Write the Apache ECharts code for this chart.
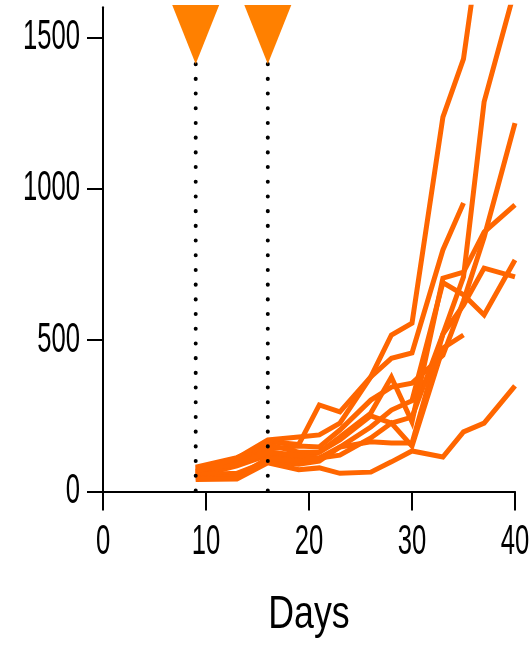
<!DOCTYPE html>
<html>
<head>
<meta charset="utf-8">
<script src="https://cdn.jsdelivr.net/npm/echarts@6/dist/echarts.min.js"></script>
<style>
html,body{margin:0;padding:0;background:#fff;}
#chart{width:531px;height:651px;}
</style>
</head>
<body>
<div id="chart"></div>
<script>
// ---- data ----
const days = [9, 13, 16, 19, 21, 23, 26, 28, 30, 33, 35, 37, 40];
const seriesA  = [75, 95, 165, 155, 286, 263, 379, 517, 556, 1237, 1429, 1910, null];
const seriesB  = [50, 85, 120, 110, 130, 170, 250, 226, 246, 520, 709, 1287, 1660];
const seriesC  = [58, 100, 140, 150, 147, 203, 302, 345, 358, 450, 630, 840, 1217];
const seriesD  = [80, 112, 155, 130, 130, 180, 259, 378, 230, 705, 725, 857, 947];
const seriesE1 = [70, 90, 130, 120, 111, 147, 213, 269, 300, 690, 650, 583, 765];
const seriesE2 = [55, 60, 100, 90, 100, 147, 164, 160, 160, 520, 616, 738, 709];
const seriesF  = [65, 110, 170, 180, 187, 226, 379, 440, 458, 798, 953, null, null];
const seriesG  = [45, 48, 110, 100, 111, 120, 177, 226, 150, 474, 517, null, null];
const seriesH  = [40, 41, 95, 72, 78, 60, 64, 98, 134, 114, 197, 226, 349];
const allSeries = [seriesA, seriesB, seriesC, seriesD, seriesE1, seriesE2, seriesF, seriesG, seriesH];

const treatmentDays = [9, 16];
const markerLevel = 1510;
const dottedTop = 1412;

const xTicks = [0, 10, 20, 30, 40];
const yTicks = [0, 500, 1000, 1500];
const xName = 'Days';

// ---- chart ----
const chart = echarts.init(document.getElementById('chart'), null, {renderer: 'canvas'});
const FONT = "'Liberation Sans', Arial, sans-serif";
const LINE_COLOR = '#FF6600';

function pairs(vals) {
  const out = [];
  vals.forEach((v, i) => { if (v !== null) out.push([days[i], v]); });
  return out;
}

const series = [];
allSeries.forEach(vals => {
  series.push({
    type: 'line',
    data: pairs(vals),
    symbol: 'none',
    clip: true,
    z: 2,
    lineStyle: {color: LINE_COLOR, width: 5, join: 'miter'},
    emphasis: {disabled: true}
  });
});
treatmentDays.forEach(d => {
  series.push({
    type: 'line',
    data: [[d, dottedTop], [d, 0]],
    symbol: 'none',
    z: 3,
    lineStyle: {color: '#000', width: 4, type: [0.1, 14.6], cap: 'round'},
    emphasis: {disabled: true}
  });
});
series.push({
  type: 'scatter',
  data: treatmentDays.map(d => [d, markerLevel]),
  symbol: 'triangle',
  symbolRotate: 180,
  symbolSize: [47, 59],
  itemStyle: {color: '#FF8000', opacity: 1},
  z: 4,
  emphasis: {disabled: true}
});

chart.setOption({
  animation: false,
  backgroundColor: '#fff',
  grid: {left: 103, right: 16, top: 7.2, bottom: 159.5, containLabel: false, outerBoundsMode: 'none'},
  xAxis: {
    type: 'value', min: 0, max: 40, interval: 10,
    axisLine: {show: true, onZero: false, lineStyle: {color: '#000', width: 2}},
    axisTick: {show: true, inside: false, length: 19, lineStyle: {color: '#000', width: 2}, customValues: xTicks},
    axisLabel: {show: false},
    splitLine: {show: false}
  },
  yAxis: {
    type: 'value', min: 0, max: 1600, interval: 500,
    axisLine: {show: true, onZero: false, lineStyle: {color: '#000', width: 2}},
    axisTick: {show: true, inside: false, length: 16, lineStyle: {color: '#000', width: 2}, customValues: yTicks},
    axisLabel: {show: false},
    splitLine: {show: false}
  },
  series: series
});

// Condensed tick labels and axis title, placed through the axes' own scales
const x0px = chart.convertToPixel({xAxisIndex: 0}, 0);
const y0px = chart.convertToPixel({yAxisIndex: 0}, 0);
const xEndPx = chart.convertToPixel({xAxisIndex: 0}, 40);
const graphics = [];
yTicks.forEach(v => {
  graphics.push({
    type: 'text', x: x0px - 23, y: chart.convertToPixel({yAxisIndex: 0}, v), scaleX: 0.61,
    style: {text: String(v), font: "42px " + FONT, fill: '#000', align: 'right', verticalAlign: 'middle'}
  });
});
xTicks.forEach(v => {
  graphics.push({
    type: 'text', x: chart.convertToPixel({xAxisIndex: 0}, v), y: y0px + 50.5, scaleX: 0.61,
    style: {text: String(v), font: "42px " + FONT, fill: '#000', align: 'center', verticalAlign: 'middle'}
  });
});
graphics.push({
  type: 'text', x: (x0px + xEndPx) / 2, y: y0px + 123.5, scaleX: 0.76,
  style: {text: xName, font: "47px " + FONT, fill: '#000', align: 'center', verticalAlign: 'middle'}
});
chart.setOption({graphic: graphics});
</script>
</body>
</html>
